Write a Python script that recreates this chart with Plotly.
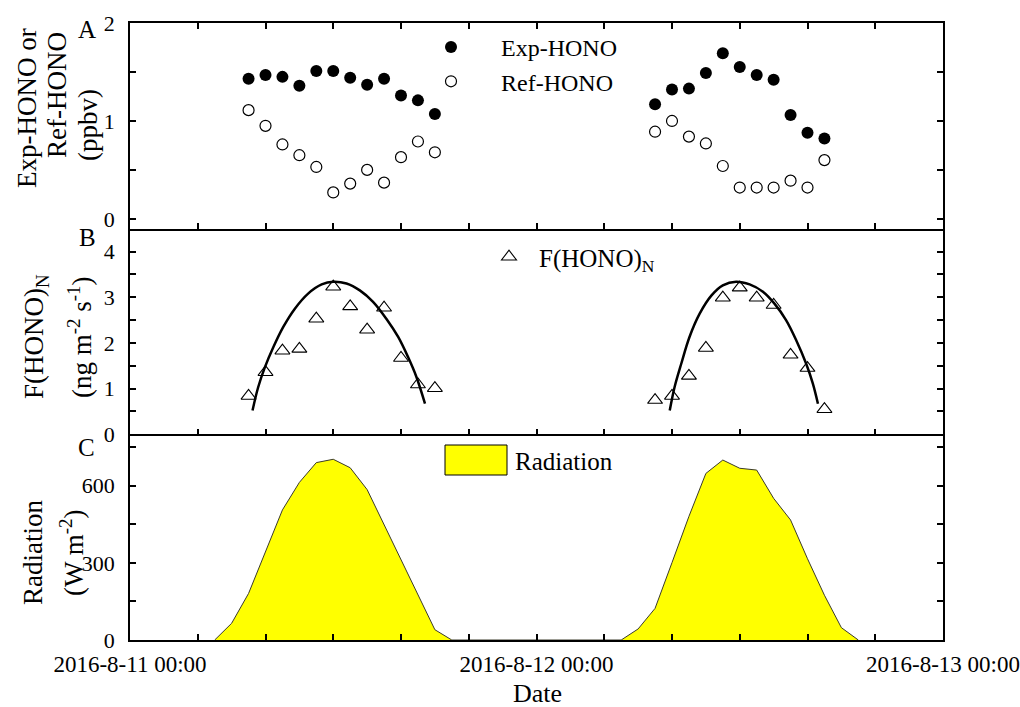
import plotly.graph_objects as go
from plotly.subplots import make_subplots

# ---------------- data ----------------
hono_time = ["2016-08-11 07:00", "2016-08-11 08:00", "2016-08-11 09:00", "2016-08-11 10:00",
             "2016-08-11 11:00", "2016-08-11 12:00", "2016-08-11 13:00", "2016-08-11 14:00",
             "2016-08-11 15:00", "2016-08-11 16:00", "2016-08-11 17:00", "2016-08-11 18:00",
             "2016-08-12 07:00", "2016-08-12 08:00", "2016-08-12 09:00", "2016-08-12 10:00",
             "2016-08-12 11:00", "2016-08-12 12:00", "2016-08-12 13:00", "2016-08-12 14:00",
             "2016-08-12 15:00", "2016-08-12 16:00", "2016-08-12 17:00"]
exp_hono = [1.43, 1.47, 1.45, 1.36, 1.51, 1.51, 1.44, 1.37, 1.43, 1.26, 1.21, 1.07,
            1.17, 1.32, 1.33, 1.49, 1.69, 1.55, 1.47, 1.42, 1.06, 0.88, 0.82]
ref_hono = [1.11, 0.95, 0.76, 0.65, 0.53, 0.27, 0.36, 0.50, 0.37, 0.63, 0.79, 0.68,
            0.89, 1.00, 0.84, 0.77, 0.54, 0.32, 0.32, 0.32, 0.39, 0.32, 0.60]
f_hono = [0.84, 1.36, 1.83, 1.87, 2.53, 3.23, 2.80, 2.29, 2.77, 1.67, 1.09, 1.01,
          0.75, 0.84, 1.28, 1.89, 2.99, 3.21, 2.99, 2.83, 1.74, 1.45, 0.55]

fit_time = ["2016-08-11 07:14", "2016-08-11 07:34", "2016-08-11 07:58", "2016-08-11 08:28",
            "2016-08-11 09:03", "2016-08-11 09:44", "2016-08-11 10:31", "2016-08-11 11:19",
            "2016-08-11 12:00", "2016-08-11 12:47", "2016-08-11 13:34", "2016-08-11 14:21",
            "2016-08-11 15:08", "2016-08-11 15:50", "2016-08-11 16:25", "2016-08-11 16:55",
            "2016-08-11 17:25", None,
            "2016-08-12 07:52", "2016-08-12 08:09", "2016-08-12 08:33", "2016-08-12 09:02",
            "2016-08-12 09:38", "2016-08-12 10:20", "2016-08-12 11:00", "2016-08-12 11:47",
            "2016-08-12 12:35", "2016-08-12 13:22", "2016-08-12 14:03", "2016-08-12 14:44",
            "2016-08-12 15:20", "2016-08-12 15:55", "2016-08-12 16:19", "2016-08-12 16:37"]
fit_value = [0.52, 1.03, 1.47, 1.91, 2.35, 2.75, 3.08, 3.28, 3.34, 3.30, 3.15, 2.90,
             2.53, 2.13, 1.69, 1.25, 0.67, None,
             0.52, 1.03, 1.55, 2.13, 2.64, 3.04, 3.26, 3.34, 3.28, 3.12, 2.86, 2.50,
             2.06, 1.55, 1.11, 0.67]

rad_time = ["2016-08-11 05:00", "2016-08-11 06:00", "2016-08-11 07:00", "2016-08-11 08:00",
            "2016-08-11 09:00", "2016-08-11 10:00", "2016-08-11 11:00", "2016-08-11 12:00",
            "2016-08-11 13:00", "2016-08-11 14:00", "2016-08-11 15:00", "2016-08-11 16:00",
            "2016-08-11 17:00", "2016-08-11 18:00", "2016-08-11 19:00",
            "2016-08-12 05:00", "2016-08-12 06:00", "2016-08-12 07:00", "2016-08-12 08:00",
            "2016-08-12 09:00", "2016-08-12 10:00", "2016-08-12 11:00", "2016-08-12 12:00",
            "2016-08-12 13:00", "2016-08-12 14:00", "2016-08-12 15:00", "2016-08-12 16:00",
            "2016-08-12 17:00", "2016-08-12 18:00", "2016-08-12 19:00"]
radiation = [0, 65, 181, 342, 506, 613, 690, 703, 670, 585, 450, 314, 180, 40, 0,
             0, 43, 123, 301, 481, 648, 700, 668, 661, 551, 467, 316, 174, 48, 0]

x_tickvals = ["2016-08-11 00:00", "2016-08-11 04:00", "2016-08-11 08:00", "2016-08-11 12:00",
              "2016-08-11 16:00", "2016-08-11 20:00", "2016-08-12 00:00", "2016-08-12 04:00",
              "2016-08-12 08:00", "2016-08-12 12:00", "2016-08-12 16:00", "2016-08-12 20:00",
              "2016-08-13 00:00"]
x_ticktext = ["2016-8-11 00:00", "", "", "", "", "", "2016-8-12 00:00", "", "", "", "", "",
              "2016-8-13 00:00"]
a_tickvals = [0, 0.5, 1, 1.5, 2]
a_ticktext = ["0", "", "1", "", "2"]
b_tickvals = [0, 0.5, 1, 1.5, 2, 2.5, 3, 3.5, 4, 4.5]
b_ticktext = ["0", "", "1", "", "2", "", "3", "", "4", ""]
c_tickvals = [0, 150, 300, 450, 600, 750]
c_ticktext = ["0", "", "300", "", "600", ""]

# ---------------- layout helpers ----------------
W, H = 1020, 707
L, R, T, B = 130, 77, 23, 67
PW, PH = W - L - R, H - T - B
FONT = "Liberation Serif, Times New Roman, serif"


def px(x):
    return (x - L) / PW


def py(y):
    return (H - B - y) / PH


fig = make_subplots(rows=3, cols=1, shared_xaxes=True, vertical_spacing=0)

fig.add_trace(go.Scatter(x=hono_time, y=exp_hono, mode="markers", name="Exp-HONO",
                         marker=dict(symbol="circle", size=12, color="black"),
                         legend="legend"), row=1, col=1)
fig.add_trace(go.Scatter(x=hono_time, y=ref_hono, mode="markers", name="Ref-HONO",
                         marker=dict(symbol="circle-open", size=11, color="black",
                                     line=dict(width=1.2, color="black")),
                         legend="legend"), row=1, col=1)
fig.add_trace(go.Scatter(x=hono_time, y=f_hono, mode="markers", name="F(HONO)<sub>N</sub>",
                         marker=dict(symbol="triangle-up-open", size=13, color="black",
                                     line=dict(width=1.1, color="black")),
                         legend="legend2"), row=2, col=1)
fig.add_trace(go.Scatter(x=fit_time, y=fit_value, mode="lines", showlegend=False,
                         line=dict(color="black", width=2.5, shape="spline"),
                         connectgaps=False), row=2, col=1)
fig.add_trace(go.Scatter(x=rad_time, y=radiation, mode="lines", fill="tozeroy",
                         fillcolor="#FFFF00", showlegend=False,
                         line=dict(color="#3a3a2a", width=1)), row=3, col=1)

axis_common = dict(showline=True, linecolor="black", linewidth=1.5, ticks="inside",
                   ticklen=6, tickwidth=1.5, tickcolor="black", showgrid=False,
                   zeroline=False, automargin=False,
                   tickfont=dict(family=FONT, size=22, color="black"))

for r in (1, 2, 3):
    fig.update_xaxes(axis_common, row=r, col=1,
                     range=["2016-08-11 00:00", "2016-08-13 00:00"],
                     tickmode="array", tickvals=x_tickvals, ticktext=x_ticktext,
                     mirror=("ticks" if r == 1 else False),
                     showticklabels=(r == 3), ticklabelstandoff=3)
fig.update_xaxes(tickfont=dict(size=23), row=3, col=1)

fig.update_yaxes(axis_common, row=1, col=1, range=[-0.1, 2], tickmode="array",
                 tickvals=a_tickvals, ticktext=a_ticktext, mirror="ticks",
                 ticklabelstandoff=9)
fig.update_yaxes(axis_common, row=2, col=1, range=[0, 4.5], tickmode="array",
                 tickvals=b_tickvals, ticktext=b_ticktext, mirror="ticks",
                 ticklabelstandoff=9)
fig.update_yaxes(axis_common, row=3, col=1, range=[0, 800], tickmode="array",
                 tickvals=c_tickvals, ticktext=c_ticktext, mirror="ticks",
                 ticklabelstandoff=9)

leg_font = dict(family=FONT, size=25, color="black")
fig.update_layout(
    width=W, height=H,
    margin=dict(l=L, r=R, t=T, b=B, autoexpand=False),
    paper_bgcolor="white", plot_bgcolor="white",
    font=dict(family=FONT, color="black"),
    legend=dict(x=px(401), y=py(25), xanchor="left", yanchor="top",
                bgcolor="rgba(0,0,0,0)", font=dict(family=FONT, size=24, color="black"),
                itemwidth=90, tracegroupgap=0),
    legend2=dict(x=px(479), y=py(234), xanchor="left", yanchor="top",
                 bgcolor="rgba(0,0,0,0)", font=leg_font, itemwidth=50),
)

# Radiation legend (box + label)
fig.add_shape(type="rect", xref="paper", yref="paper",
              x0=px(445), x1=px(507), y0=py(475), y1=py(445),
              fillcolor="#FFFF00", line=dict(color="black", width=1))

annots = [
    dict(text="Radiation", x=px(513), y=py(461), xanchor="left", yanchor="middle",
         size=25, angle=0),
    dict(text="A", x=px(87), y=py(29), xanchor="center", yanchor="middle", size=25, angle=0),
    dict(text="B", x=px(87), y=py(238), xanchor="center", yanchor="middle", size=25, angle=0),
    dict(text="C", x=px(86), y=py(447), xanchor="center", yanchor="middle", size=25, angle=0),
    dict(text="Exp-HONO or", x=px(27), y=py(108), xanchor="center", yanchor="middle",
         size=27, angle=-90),
    dict(text="Ref-HONO", x=px(57), y=py(95), xanchor="center", yanchor="middle",
         size=27, angle=-90),
    dict(text="(ppbv)", x=px(88), y=py(125), xanchor="center", yanchor="middle",
         size=27, angle=-90),
    dict(text="F(HONO)<sub>N</sub>", x=px(36), y=py(337), xanchor="center",
         yanchor="middle", size=27, angle=-90),
    dict(text="(ng m<sup>-2</sup> s<sup>-1</sup>)", x=px(80), y=py(337),
         xanchor="center", yanchor="middle", size=27, angle=-90),
    dict(text="Radiation", x=px(33), y=py(553), xanchor="center", yanchor="middle",
         size=27, angle=-90),
    dict(text="(W m<sup>-2</sup>)", x=px(72), y=py(553), xanchor="center",
         yanchor="middle", size=27, angle=-90),
    dict(text="Date", x=px(537), y=py(693), xanchor="center", yanchor="middle",
         size=26, angle=0),
]
for a in annots:
    fig.add_annotation(text=a["text"], x=a["x"], y=a["y"], xref="paper", yref="paper",
                       xanchor=a["xanchor"], yanchor=a["yanchor"], showarrow=False,
                       textangle=a["angle"],
                       font=dict(family=FONT, size=a["size"], color="black"))

fig.write_html("out.html")
